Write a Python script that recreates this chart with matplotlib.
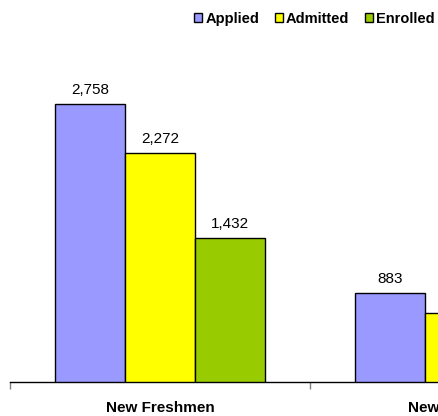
import matplotlib
matplotlib.use("Agg")
import matplotlib.pyplot as plt
import numpy as np
from matplotlib.patches import Patch

plt.rcParams['font.family'] = ['Liberation Sans', 'DejaVu Sans']

categories = ['New Freshmen', 'New Transfers']
series_names = ['Applied', 'Admitted', 'Enrolled']
applied = [2758, 883]
admitted = [2272, 684]
enrolled = [1432, 420]
colors = ['#9999FF', '#FFFF00', '#99CC00']

W, H = 438, 416
fig = plt.figure(figsize=(W / 100, H / 100), dpi=100)
# axes extends beyond the right edge (chart is cropped)
left_px, base_px, width_px = 10, 382, 600
ymax = 3500
px_per_unit = 278 / 2758
height_px = ymax * px_per_unit
ax = fig.add_axes([left_px / W, (H - base_px) / H, width_px / W, height_px / H])

x = np.arange(len(categories))
bw = 0.7 / 3
for i, (vals, c) in enumerate(zip([applied, admitted, enrolled], colors)):
    pos = x + (i - 1) * bw
    bars = ax.bar(pos, vals, bw, color=c, edgecolor='black', linewidth=1.0, zorder=3)
    for b, v in zip(bars, vals):
        ax.annotate(f'{v:,}', (b.get_x() + b.get_width() / 2, v),
                    xytext=(0, 5.0), textcoords='offset points',
                    ha='center', va='bottom', fontsize=11, color='black')

ax.set_xlim(-0.5, len(categories) - 0.5)
ax.set_ylim(0, ymax)
for s in ['top', 'right', 'left']:
    ax.spines[s].set_visible(False)
ax.spines['bottom'].set_color('black')
ax.spines['bottom'].set_linewidth(1.0)
ax.set_yticks([])
ax.set_xticks(np.arange(-0.5, len(categories), 1.0))
ax.set_xticklabels([])
ax.tick_params(axis='x', length=5, color='#808080', width=1)
for xi, cat in zip(x, categories):
    ax.annotate(cat, (xi, 0), xycoords=('data', 'axes fraction'),
                xytext=(0, -18.5), textcoords='offset points',
                ha='center', va='center', fontsize=11, fontweight='bold',
                annotation_clip=False)

handles = [Patch(facecolor=c, edgecolor='black', linewidth=1.0) for c in colors]
fig.legend(handles, series_names, loc='center right', bbox_to_anchor=(1 - 3 / W, 1 - 19 / H),
           ncol=3, frameon=False, handlelength=0.55, handleheight=0.55,
           handletextpad=0.2, columnspacing=1.1, borderpad=0, borderaxespad=0,
           prop={'weight': 'bold', 'size': 10.5})

fig.savefig('out.png', dpi=100)
